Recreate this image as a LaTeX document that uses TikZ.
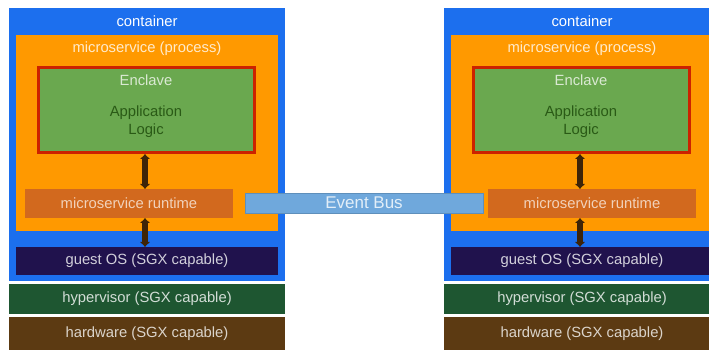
\documentclass[tikz,border=0pt]{standalone}
\usepackage{fontspec}
\setmainfont{Liberation Sans}
\usetikzlibrary{arrows.meta}

\definecolor{ctblue}{HTML}{1C6FEE}
\definecolor{msorange}{HTML}{FF9900}
\definecolor{enred}{HTML}{CC2200}
\definecolor{engreen}{HTML}{6AA84F}
\definecolor{apptext}{HTML}{2A5A16}
\definecolor{rtorange}{HTML}{D2691E}
\definecolor{osnavy}{HTML}{20124D}
\definecolor{hvgreen}{HTML}{1E5631}
\definecolor{hwbrown}{HTML}{5C3A12}
\definecolor{busblue}{HTML}{6FA8DC}
\definecolor{arrowbrown}{HTML}{3E2408}

\tikzset{
  layer/.style={draw=none, inner sep=0pt, outer sep=0pt, anchor=north west},
  txt/.style={inner sep=0pt, font=\fontsize{14.8}{17}\selectfont},
  link/.style={draw=arrowbrown, line width=6pt, {Latex[length=5pt,width=11pt]}-{Latex[length=5pt,width=11pt]}}
}

% one host stack: #1 name prefix, #2 horizontal offset, #3 runtime left edge
\newcommand{\hoststack}[3]{%
  \begin{scope}[xshift=#2]
    \node[layer, fill=ctblue, minimum width=276pt, minimum height=273pt] (#1ct) at (9,8) {};
    \node[txt, white] (#1ctl) at (147,21) {container};
    \node[layer, fill=msorange, minimum width=262pt, minimum height=196pt] (#1ms) at (16,35) {};
    \node[txt, white!80!msorange] (#1msl) at (147,49) {microservice (process)};
    \node[layer, fill=engreen, draw=enred, line width=3pt, minimum width=216pt, minimum height=85pt, outer sep=0pt] (#1en) at (38.5,67.5) {};
    \node[txt, white!75!engreen] (#1enl) at (146,80) {Enclave};
    \node[txt, apptext, align=center] (#1app) at (146,122) {Application\\[1pt]Logic};
    \node[layer, fill=rtorange, minimum width=208pt, minimum height=29pt] (#1rt) at (#3,189) {};
    \node[txt, white!70!rtorange] at (#1rt.center) {microservice runtime};
    \node[layer, fill=osnavy, minimum width=262pt, minimum height=28pt] (#1os) at (16,247) {};
    \node[txt, white!80!osnavy] at (#1os.center) {guest OS (SGX capable)};
    \node[layer, fill=hvgreen, minimum width=276pt, minimum height=30pt] (#1hv) at (9,284) {};
    \node[txt, white!80!hvgreen] at (#1hv.center) {hypervisor (SGX capable)};
    \node[layer, fill=hwbrown, minimum width=276pt, minimum height=33pt] (#1hw) at (9,317) {};
    \node[txt, white!78!hwbrown] at (#1hw.center) {hardware (SGX capable)};
  \end{scope}}

\begin{document}
\begin{tikzpicture}[x=1pt, y=-1pt]
  \useasboundingbox (0,0) rectangle (709,352);
  \clip (0,0) rectangle (709,352);
  \fill[white] (0,0) rectangle (709,352);

  \hoststack{L}{0pt}{25}
  \hoststack{R}{435pt}{53}

  % enclave <-> runtime <-> guest OS
  \coordinate (La) at (145,0);
  \draw[link] (La |- Len.south) ++(0,1.5) -- (La |- Lrt.north);
  \draw[link] (La |- Lrt.south) -- (La |- Los.north);
  \coordinate (Ra) at (580,0);
  \draw[link] (Ra |- Ren.south) ++(0,1.5) -- (Ra |- Rrt.north);
  \draw[link] (Ra |- Rrt.south) -- (Ra |- Ros.north);

  % shared message bus between the two runtimes
  \node[layer, fill=busblue, draw=busblue!85!black, line width=0.6pt, minimum width=238pt, minimum height=20pt] (bus) at (245,193) {};
  \node[txt, font=\fontsize{17}{19}\selectfont, white!80!busblue] (busl) at (bus.center) {Event Bus};
\end{tikzpicture}
\end{document}
